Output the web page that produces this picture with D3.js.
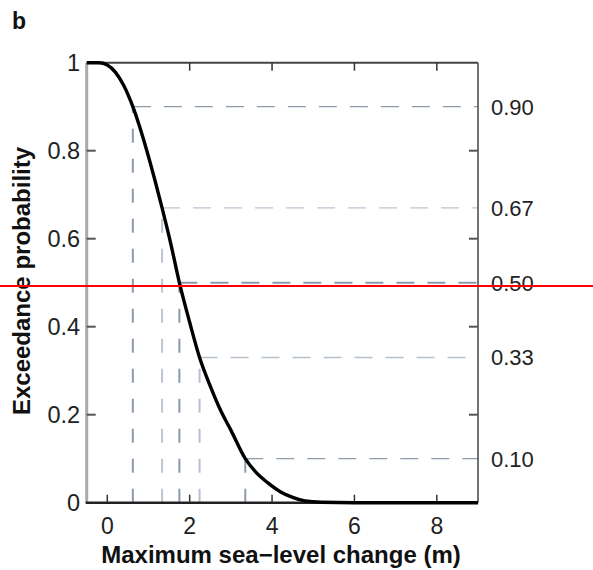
<!DOCTYPE html>
<html>
<head>
<meta charset="utf-8">
<script src="https://cdn.jsdelivr.net/npm/d3@7"></script>
<style>
  body { margin: 0; background: #fff; }
  svg { display: block; font-family: "Liberation Sans", Arial, sans-serif; }
</style>
</head>
<body>
<svg id="chart" width="593" height="570"></svg>
<script>
// exceedance curve
const seaLevel = [-0.5, -0.2, 0, 0.2, 0.4, 0.62, 0.96, 1.15, 1.33, 1.55, 1.75, 2.0, 2.24, 2.5, 2.75, 3.0, 3.35, 3.6, 3.9, 4.2, 4.5, 4.8, 5.2, 6, 7, 8, 9];
const exceed   = [1, 1, 0.995, 0.978, 0.948, 0.90, 0.80, 0.735, 0.67, 0.585, 0.50, 0.41, 0.33, 0.265, 0.21, 0.165, 0.10, 0.07, 0.045, 0.025, 0.012, 0.004, 0.001, 0, 0, 0, 0];

// probability levels and matching quantiles (dashed guides)
const levels    = [0.90, 0.67, 0.50, 0.33, 0.10];
const levelText = ["0.90", "0.67", "0.50", "0.33", "0.10"];
const quantiles = [0.62, 1.33, 1.75, 2.24, 3.35];

const xTicks = [0, 2, 4, 6, 8];
const yTicks = [0, 0.2, 0.4, 0.6, 0.8, 1];
const yTickText = ["0", "0.2", "0.4", "0.6", "0.8", "1"];

(function () {
  const svg = d3.select("#chart");
  const pl = 86.7, pr = 478, pt = 62.7, pb = 502.7;

  const x = d3.scaleLinear().domain([-0.5, 9]).range([pl, pr]);
  const y = d3.scaleLinear().domain([0, 1]).range([pb, pt]);

  // guide styles per level (lighter for 0.67 / 0.33, heavier for 0.50)
  const guideColor = ["#8d9aab", "#bcc6d2", "#8a99ad", "#b6c1ce", "#8e9cae"];
  const guideWidth = [1.3, 1.3, 2, 1.3, 1.3];

  const guides = svg.append("g");
  levels.forEach(function (p, i) {
    guides.append("line")
      .attr("x1", x(quantiles[i])).attr("x2", x(quantiles[i]))
      .attr("y1", y(0)).attr("y2", y(p))
      .attr("stroke", guideColor[i])
      .attr("stroke-width", 2)
      .attr("stroke-dasharray", "14,16");
    guides.append("line")
      .attr("x1", x(quantiles[i])).attr("x2", pr)
      .attr("y1", y(p)).attr("y2", y(p))
      .attr("stroke", guideColor[i])
      .attr("stroke-width", guideWidth[i])
      .attr("stroke-dasharray", "18,13");
    svg.append("text")
      .attr("x", pr + 13)
      .attr("y", y(p))
      .attr("dy", "0.36em")
      .attr("font-size", 22)
      .attr("fill", "#222")
      .text(levelText[i]);
  });

  // frame
  svg.append("line").attr("x1", pl).attr("x2", pr).attr("y1", pt).attr("y2", pt)
    .attr("stroke", "#444").attr("stroke-width", 2);
  svg.append("line").attr("x1", pr).attr("x2", pr).attr("y1", pt).attr("y2", pb)
    .attr("stroke", "#444").attr("stroke-width", 1.5);
  svg.append("line").attr("x1", pl).attr("x2", pl).attr("y1", pt).attr("y2", pb)
    .attr("stroke", "#aaa").attr("stroke-width", 3);
  svg.append("line").attr("x1", pl - 1).attr("x2", pr).attr("y1", pb).attr("y2", pb)
    .attr("stroke", "#222").attr("stroke-width", 2.5);

  // ticks (inside)
  const inner = yTicks.filter(function (t) { return t > 0 && t < 1; });
  svg.append("g").selectAll("line").data(inner).enter().append("line")
    .attr("x1", pl).attr("x2", pl + 9)
    .attr("y1", function (d) { return y(d); }).attr("y2", function (d) { return y(d); })
    .attr("stroke", "#555").attr("stroke-width", 2);
  svg.append("g").selectAll("line").data(inner).enter().append("line")
    .attr("x1", pr).attr("x2", pr - 9)
    .attr("y1", function (d) { return y(d); }).attr("y2", function (d) { return y(d); })
    .attr("stroke", "#555").attr("stroke-width", 2);
  svg.append("g").selectAll("line").data(xTicks).enter().append("line")
    .attr("x1", function (d) { return x(d); }).attr("x2", function (d) { return x(d); })
    .attr("y1", pb).attr("y2", pb - 8)
    .attr("stroke", "#333").attr("stroke-width", 1.5);
  svg.append("g").selectAll("line").data(xTicks.slice(1)).enter().append("line")
    .attr("x1", function (d) { return x(d); }).attr("x2", function (d) { return x(d); })
    .attr("y1", pt).attr("y2", pt + 8)
    .attr("stroke", "#333").attr("stroke-width", 1.5);

  // tick labels
  svg.append("g").selectAll("text").data(xTicks).enter().append("text")
    .attr("x", function (d) { return x(d); })
    .attr("y", 534)
    .attr("text-anchor", "middle")
    .attr("font-size", 23)
    .attr("fill", "#222")
    .text(function (d) { return d; });
  svg.append("g").selectAll("text").data(yTicks).enter().append("text")
    .attr("x", pl - 6.5)
    .attr("y", function (d) { return y(d); })
    .attr("dy", "0.36em")
    .attr("text-anchor", "end")
    .attr("font-size", 23.5)
    .attr("fill", "#222")
    .text(function (d, i) { return yTickText[i]; });

  // curve
  const line = d3.line()
    .x(function (d) { return x(d[0]); })
    .y(function (d) { return y(d[1]); })
    .curve(d3.curveMonotoneX);
  svg.append("path")
    .datum(seaLevel.map(function (v, i) { return [v, exceed[i]]; }))
    .attr("d", line)
    .attr("fill", "none")
    .attr("stroke", "#000")
    .attr("stroke-width", 3.4);

  // titles
  svg.append("text")
    .attr("x", 281).attr("y", 563)
    .attr("text-anchor", "middle")
    .attr("font-size", 24).attr("font-weight", "bold")
    .attr("fill", "#111")
    .text("Maximum sea\u2212level change (m)");
  svg.append("text")
    .attr("transform", "translate(30,281) rotate(-90)")
    .attr("text-anchor", "middle")
    .attr("font-size", 24).attr("font-weight", "bold")
    .attr("fill", "#111")
    .text("Exceedance probability");
  svg.append("text")
    .attr("x", 12).attr("y", 29)
    .attr("font-size", 23).attr("font-weight", "bold")
    .attr("fill", "#111")
    .text("b");

  // red marker line across the figure
  svg.append("line")
    .attr("x1", 0).attr("x2", 593)
    .attr("y1", y(0.4925)).attr("y2", y(0.4925))
    .attr("stroke", "#ff0000").attr("stroke-width", 2);
})();
</script>
</body>
</html>
